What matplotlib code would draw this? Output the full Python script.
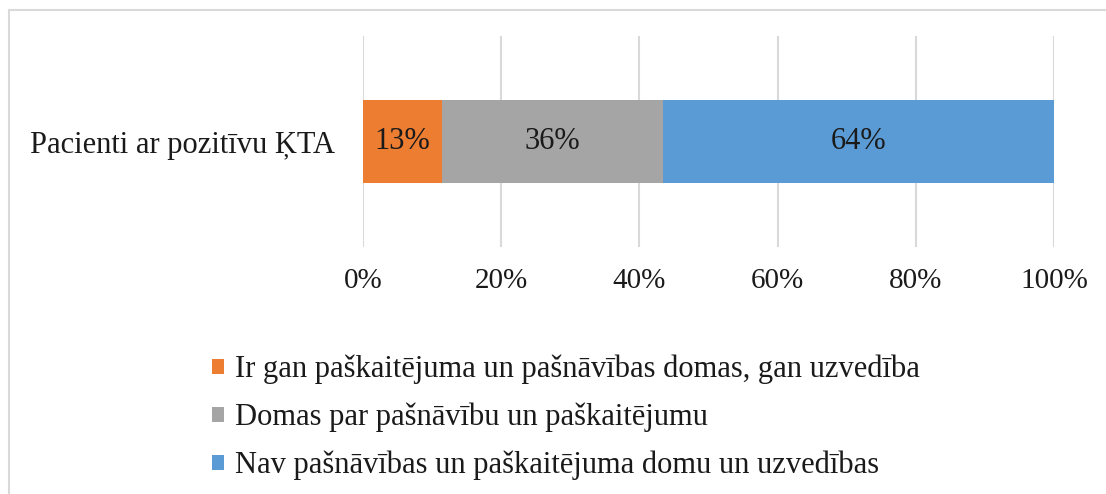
import matplotlib
matplotlib.use("Agg")
import matplotlib.pyplot as plt
from matplotlib.patches import Rectangle

category = "Pacienti ar pozitīvu ĶTA"
series_names = [
    "Ir gan paškaitējuma un pašnāvības domas, gan uzvedība",
    "Domas par pašnāvību un paškaitējumu",
    "Nav pašnāvības un paškaitējuma domu un uzvedības",
]
series_values = [13, 36, 64]
series_colors = ["#ED7D31", "#A5A5A5", "#5B9BD5"]
tick_values = [0, 20, 40, 60, 80, 100]
tick_labels = ["0%", "20%", "40%", "60%", "80%", "100%"]

plt.rcParams['font.family'] = ['Liberation Serif', 'DejaVu Serif']
FS = 22

fig = plt.figure(figsize=(11.06, 4.94), dpi=100)
W, H = 1106, 494
ax = fig.add_axes([363 / W, 1 - 247 / H, (1054 - 363) / W, (247 - 36) / H])

total = sum(series_values)
left = 0.0
handles = []
for name, v, c in zip(series_names, series_values, series_colors):
    w = v / total * 100
    b = ax.barh(0, w, left=left, height=0.39, color=c, label=name, zorder=3)
    ax.text(left + w / 2, 0, f"{v}%", ha='center', va='center', fontsize=FS, color='#1a1a1a', zorder=4)
    handles.append(b)
    left += w

ax.set_xlim(0, 100)
ax.set_ylim(-0.5, 0.5)
ax.set_xticks(tick_values)
ax.set_xticklabels(tick_labels, fontsize=21, color='#1a1a1a')
ax.set_yticks([0])
ax.set_yticklabels([category], fontsize=FS, color='#1a1a1a')
ax.tick_params(axis='both', length=0)
ax.tick_params(axis='x', pad=15)
ax.tick_params(axis='y', pad=20)
ax.grid(axis='x', color='#D9D9D9', linewidth=1.5, zorder=0)
for s in ax.spines.values():
    s.set_visible(False)

leg = fig.legend(handles=handles, labels=series_names, loc='upper left',
                 bbox_to_anchor=(212 / W, 1 - 355 / H), frameon=False, fontsize=FS,
                 handlelength=0.4, handleheight=0.4, handletextpad=0.35, labelspacing=0.6,
                 borderaxespad=0, borderpad=0)
for t in leg.get_texts():
    t.set_color('#1a1a1a')

fig.patches.append(Rectangle((9 / W, -0.1), 1.2, 1 - 10 / H + 0.1, transform=fig.transFigure,
                             fill=False, edgecolor='#D9D9D9', linewidth=1.5))

fig.savefig("out.png", dpi=100)
